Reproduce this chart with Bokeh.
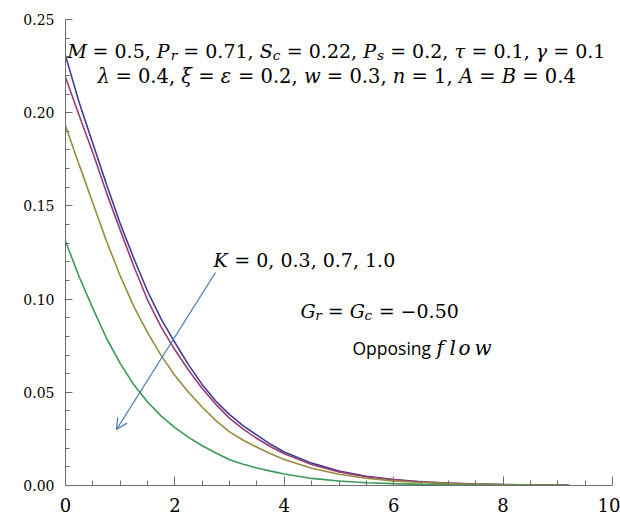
from bokeh.plotting import figure
from bokeh.models import Range1d, FixedTicker, PrintfTickFormatter, Label, Arrow, OpenHead
from bokeh.embed import file_html
from bokeh.resources import INLINE

# ---- data ----
eta = [0, 0.25, 0.5, 0.75, 1.0, 1.25, 1.5, 1.75, 2.0, 2.25, 2.5, 2.75, 3.0, 3.25, 3.5,
       3.75, 4.0, 4.5, 5.0, 5.5, 6.0, 6.5, 7.0, 7.5, 8.0, 8.5, 9.0, 9.2]
theta_k0 = [0.2306, 0.2055, 0.1835, 0.1615, 0.1405, 0.1218, 0.1042, 0.0893, 0.0767, 0.0647,
            0.0541, 0.0452, 0.0380, 0.0320, 0.0270, 0.0221, 0.0180, 0.0120, 0.0078, 0.0050,
            0.0032, 0.0020, 0.0013, 0.0008, 0.0005, 0.0003, 0.0002, 0.0001]
theta_k03 = [0.219, 0.1985, 0.1785, 0.157, 0.137, 0.1175, 0.0995, 0.0850, 0.0728, 0.0618,
             0.0520, 0.0435, 0.0360, 0.0302, 0.0252, 0.0208, 0.0170, 0.0113, 0.0073, 0.0047,
             0.0030, 0.0019, 0.0012, 0.00075, 0.00047, 0.0003, 0.0002, 0.0001]
theta_k07 = [0.193, 0.172, 0.1515, 0.131, 0.1125, 0.0960, 0.0820, 0.0697, 0.0590, 0.0500,
             0.0420, 0.0348, 0.0288, 0.0243, 0.0205, 0.0170, 0.0140, 0.0093, 0.0060, 0.0039,
             0.0025, 0.0016, 0.0010, 0.00065, 0.0004, 0.00025, 0.00015, 0.0001]
theta_k10 = [0.131, 0.112, 0.0950, 0.0790, 0.0655, 0.0540, 0.0448, 0.0372, 0.0310, 0.0258,
             0.0213, 0.0174, 0.0138, 0.0114, 0.0094, 0.0077, 0.0062, 0.0038, 0.0024, 0.0015,
             0.0010, 0.0006, 0.0004, 0.00025, 0.00015, 0.0001, 0.00006, 0.00004]
series = [theta_k0, theta_k03, theta_k07, theta_k10]
colors = ["#3d3d99", "#993d71", "#998b3d", "#3d9956"]

x_ticks = [0, 2, 4, 6, 8, 10]
x_minor = [0.5, 1, 1.5, 2.5, 3, 3.5, 4.5, 5, 5.5, 6.5, 7, 7.5, 8.5, 9, 9.5]
y_ticks = [0.0, 0.05, 0.10, 0.15, 0.20, 0.25]
y_minor = [i / 100 for i in range(26) if i % 5 != 0]

SERIF = "DejaVu Serif"
SANS = "Open Sans"

# ---- figure ----
L, T, FW, FH = 65, 19, 547, 466
p = figure(width=620, height=528, output_backend="svg", toolbar_location=None,
           x_range=Range1d(0, 10), y_range=Range1d(0, 0.25),
           frame_width=FW, frame_height=FH,
           min_border_left=L, min_border_right=8, min_border_top=T, min_border_bottom=43)
p.outline_line_color = None
p.xgrid.visible = False
p.ygrid.visible = False
p.background_fill_color = "white"
p.border_fill_color = "white"

for ax in (p.xaxis[0], p.yaxis[0]):
    ax.axis_line_color = "#6e6e6e"
    ax.major_tick_line_color = "#6e6e6e"
    ax.minor_tick_line_color = "#6e6e6e"
    ax.major_tick_out = 0
    ax.minor_tick_out = 0
    ax.major_label_text_color = "black"
    ax.major_label_text_font = SERIF

p.xaxis.ticker = FixedTicker(ticks=x_ticks, minor_ticks=x_minor)
p.xaxis.major_tick_in = 9
p.xaxis.minor_tick_in = 5
p.xaxis.major_label_text_font_size = "18px"
p.xaxis.major_label_standoff = 12

p.yaxis.ticker = FixedTicker(ticks=y_ticks, minor_ticks=y_minor)
p.yaxis.formatter = PrintfTickFormatter(format="%.2f")
p.yaxis.major_tick_in = 7
p.yaxis.minor_tick_in = 4
p.yaxis.major_label_text_font_size = "14px"
p.yaxis.major_label_standoff = 11

for ys, c in zip(series, colors):
    p.line(eta, ys, line_color=c, line_width=1.6)

# pixel -> data helpers for annotation placement
def dx(px):
    return (px - L) / FW * 10

def dy(py):
    return (T + FH - py) / FH * 0.25

def lab(txt, px, py, size=19, style="normal", font=SERIF):
    p.add_layout(Label(x=dx(px), y=dy(py), text=txt, text_font=font,
                       text_font_size=f"{size}px", text_font_style=style,
                       text_baseline="alphabetic", text_align="left",
                       text_color="black"))

# approximate DejaVu Serif advance widths (em)
EM = {" ": 0.318, "=": 0.838, ".": 0.318, ",": 0.318, "−": 0.838,
      "M": 1.0, "P": 0.733, "S": 0.685, "A": 0.722, "B": 0.735, "K": 0.776, "G": 0.775,
      "r": 0.478, "c": 0.593, "s": 0.513, "w": 0.86, "n": 0.644,
      "τ": 0.58, "γ": 0.6, "λ": 0.6, "ξ": 0.55, "ε": 0.56}

def width(t, size):
    return sum(EM.get(ch, 0.636) for ch in t) * size

def run(tokens, x0, base, size=19):
    x = x0
    for t, kind in tokens:
        s = size * 0.72 if kind == "sub" else size
        b = base + 4 if kind == "sub" else base
        style = "normal" if kind == "up" else "italic"
        lead = len(t) - len(t.lstrip(" "))
        x += width(" " * lead, s)
        body = t.strip(" ")
        lab(body, x, b, s, style)
        x += width(t[lead:], s)

run([("M", "it"), (" = 0.5, ", "up"), ("P", "it"), ("r", "sub"), (" = 0.71, ", "up"),
     ("S", "it"), ("c", "sub"), (" = 0.22, ", "up"), ("P", "it"), ("s", "sub"),
     (" = 0.2, ", "up"), ("τ", "it"), (" = 0.1, ", "up"), ("γ", "it"), (" = 0.1", "up")],
    67, 50)
run([("λ", "it"), (" = 0.4, ", "up"), ("ξ", "it"), (" = ", "up"), ("ε", "it"),
     (" = 0.2, ", "up"), ("w", "it"), (" = 0.3, ", "up"), ("n", "it"), (" = 1, ", "up"),
     ("A", "it"), (" = ", "up"), ("B", "it"), (" = 0.4", "up")],
    97, 76, 19.5)
run([("K", "it"), (" = 0, 0.3, 0.7, 1.0", "up")], 213, 259)
run([("G", "it"), ("r", "sub"), (" = ", "up"), ("G", "it"), ("c", "sub"), (" = −0.50", "up")],
    300, 310)

# Opposing flow
lab("Opposing", 352, 347, 17.5, "normal", SANS)
lab("f", 436, 347, 20, "italic"); lab("l", 449, 347, 20, "italic")
lab("o", 458, 347, 20, "italic"); lab("w", 474, 347, 20, "italic")

# axis titles
lab("θ", 8, 232, 22, "italic"); lab("(", 24, 232, 22); lab("η", 33, 232, 22, "italic")
lab(")", 51, 232, 22)
lab("η", 342, 515, 22, "italic")

# arrow
p.add_layout(Arrow(end=OpenHead(size=11, line_color="#4a7ebb", line_width=1.3),
                   x_start=dx(215), y_start=dy(272), x_end=dx(116), y_end=dy(429),
                   line_color="#4a7ebb", line_width=1.3))

open("out.html", "w").write(file_html(p, INLINE))
